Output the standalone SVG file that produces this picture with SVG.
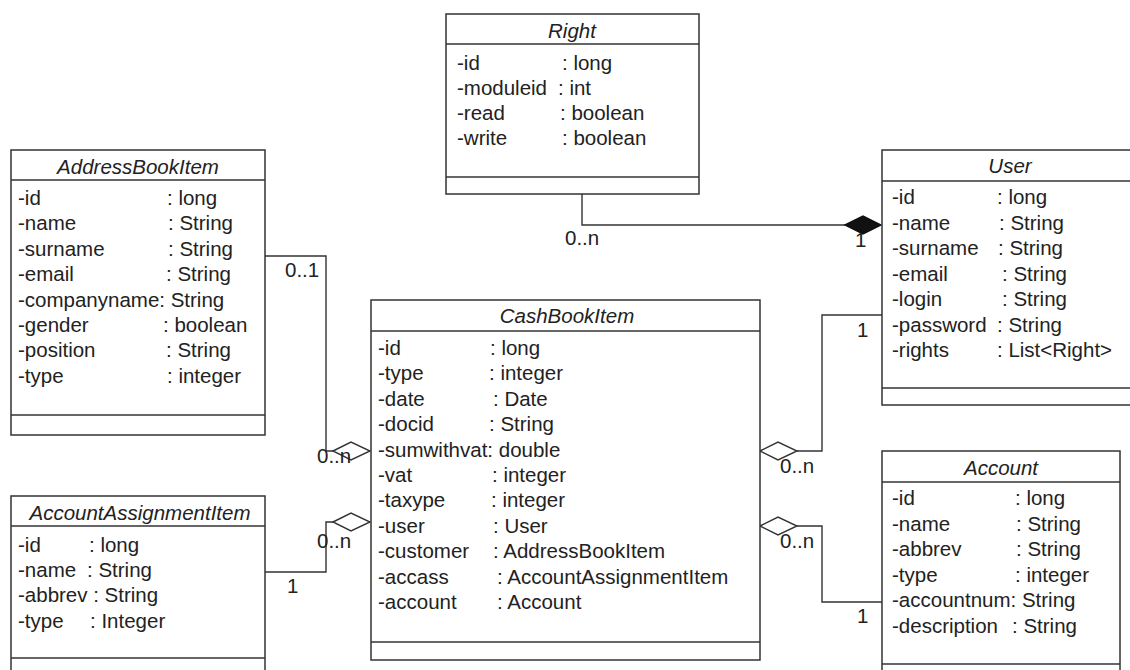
<svg xmlns="http://www.w3.org/2000/svg" width="1130" height="670" viewBox="0 0 1130 670">
<style>
.box{fill:#fff;stroke:#333;stroke-width:1.5}
.sep{stroke:#333;stroke-width:1.5}
.t{font-family:"Liberation Sans",Arial,sans-serif;font-size:20.5px;fill:#222}
.title{font-style:italic;text-anchor:middle}
.line{fill:none;stroke:#333;stroke-width:1.4}
.hd{fill:#fff;stroke:#333;stroke-width:1.4}
.fd{fill:#111;stroke:#111;stroke-width:1.4}
</style>
<rect width="1130" height="670" fill="#fff"/>
<g id="connectors">
  <polyline class="line" points="582,194 582,225 845,225"/>
  <polygon class="fd" points="845,225 863,216 881,225 863,234"/>
  <polyline class="line" points="265,256 326,256 326,451 333,451"/>
  <polygon class="hd" points="333,451 351,442 370,451 351,460"/>
  <polyline class="line" points="265,572 326,572 326,522 333,522"/>
  <polygon class="hd" points="333,522 351,513 370,522 351,531"/>
  <polyline class="line" points="882,315 822,315 822,451 797,451"/>
  <polygon class="hd" points="760,451 778,442 797,451 778,460"/>
  <polyline class="line" points="882,602 822,602 822,526 797,526"/>
  <polygon class="hd" points="760,526 778,517 797,526 778,535"/>
  <text class="t" x="565" y="245">0..n</text>
  <text class="t" x="855" y="247">1</text>
  <text class="t" x="285" y="277">0..1</text>
  <text class="t" x="317" y="463">0..n</text>
  <text class="t" x="317" y="548">0..n</text>
  <text class="t" x="287" y="593">1</text>
  <text class="t" x="857" y="337">1</text>
  <text class="t" x="780" y="473">0..n</text>
  <text class="t" x="780" y="548">0..n</text>
  <text class="t" x="857" y="623">1</text>
</g>
<g id="Right">
  <rect class="box" x="446" y="14" width="253" height="180"/>
  <line class="sep" x1="446" y1="44" x2="699" y2="44"/>
  <line class="sep" x1="446" y1="177" x2="699" y2="177"/>
  <text class="t title" x="572" y="38">Right</text>
  <text class="t" x="457" y="70">-id</text><text class="t" x="562" y="70">: long</text>
  <text class="t" x="457" y="95">-moduleid</text><text class="t" x="558" y="95">: int</text>
  <text class="t" x="457" y="120">-read</text><text class="t" x="560" y="120">: boolean</text>
  <text class="t" x="457" y="145">-write</text><text class="t" x="562" y="145">: boolean</text>
</g>
<g id="AddressBookItem">
  <rect class="box" x="11" y="150" width="254" height="285"/>
  <line class="sep" x1="11" y1="180" x2="265" y2="180"/>
  <line class="sep" x1="11" y1="415" x2="265" y2="415"/>
  <text class="t title" x="138" y="174">AddressBookItem</text>
  <text class="t" x="18" y="205">-id</text><text class="t" x="167" y="205">: long</text>
  <text class="t" x="18" y="230">-name</text><text class="t" x="168" y="230">: String</text>
  <text class="t" x="18" y="256">-surname</text><text class="t" x="168" y="256">: String</text>
  <text class="t" x="18" y="281">-email</text><text class="t" x="166" y="281">: String</text>
  <text class="t" x="18" y="307">-companyname: String</text>
  <text class="t" x="18" y="332">-gender</text><text class="t" x="163" y="332">: boolean</text>
  <text class="t" x="18" y="357">-position</text><text class="t" x="166" y="357">: String</text>
  <text class="t" x="18" y="383">-type</text><text class="t" x="167" y="383">: integer</text>
</g>
<g id="User">
  <rect class="box" x="882" y="150" width="260" height="255"/>
  <line class="sep" x1="882" y1="181" x2="1142" y2="181"/>
  <line class="sep" x1="882" y1="388" x2="1142" y2="388"/>
  <text class="t title" x="1010" y="173">User</text>
  <text class="t" x="892" y="204">-id</text><text class="t" x="997" y="204">: long</text>
  <text class="t" x="892" y="230">-name</text><text class="t" x="999" y="230">: String</text>
  <text class="t" x="892" y="255">-surname</text><text class="t" x="998" y="255">: String</text>
  <text class="t" x="892" y="281">-email</text><text class="t" x="1002" y="281">: String</text>
  <text class="t" x="892" y="306">-login</text><text class="t" x="1002" y="306">: String</text>
  <text class="t" x="892" y="332">-password</text><text class="t" x="997" y="332">: String</text>
  <text class="t" x="892" y="357">-rights</text><text class="t" x="997" y="357">: List&lt;Right&gt;</text>
</g>
<g id="CashBookItem">
  <rect class="box" x="371" y="300" width="389" height="360"/>
  <line class="sep" x1="371" y1="331" x2="760" y2="331"/>
  <line class="sep" x1="371" y1="642" x2="760" y2="642"/>
  <text class="t title" x="567" y="323">CashBookItem</text>
  <text class="t" x="378" y="355">-id</text><text class="t" x="490" y="355">: long</text>
  <text class="t" x="378" y="380">-type</text><text class="t" x="489" y="380">: integer</text>
  <text class="t" x="378" y="406">-date</text><text class="t" x="493" y="406">: Date</text>
  <text class="t" x="378" y="431">-docid</text><text class="t" x="489" y="431">: String</text>
  <text class="t" x="378" y="457">-sumwithvat: double</text>
  <text class="t" x="378" y="482">-vat</text><text class="t" x="492" y="482">: integer</text>
  <text class="t" x="378" y="507">-taxype</text><text class="t" x="491" y="507">: integer</text>
  <text class="t" x="378" y="533">-user</text><text class="t" x="493" y="533">: User</text>
  <text class="t" x="378" y="558">-customer</text><text class="t" x="493" y="558">: AddressBookItem</text>
  <text class="t" x="378" y="584">-accass</text><text class="t" x="497" y="584">: AccountAssignmentItem</text>
  <text class="t" x="378" y="609">-account</text><text class="t" x="497" y="609">: Account</text>
</g>
<g id="AccountAssignmentItem">
  <rect class="box" x="11" y="496" width="254" height="190"/>
  <line class="sep" x1="11" y1="526" x2="265" y2="526"/>
  <line class="sep" x1="11" y1="658" x2="265" y2="658"/>
  <text class="t title" x="140" y="520">AccountAssignmentItem</text>
  <text class="t" x="18" y="552">-id</text><text class="t" x="89" y="552">: long</text>
  <text class="t" x="18" y="577">-name</text><text class="t" x="87" y="577">: String</text>
  <text class="t" x="18" y="602">-abbrev : String</text>
  <text class="t" x="18" y="628">-type</text><text class="t" x="90" y="628">: Integer</text>
</g>
<g id="Account">
  <rect class="box" x="882" y="451" width="238" height="235"/>
  <line class="sep" x1="882" y1="482" x2="1120" y2="482"/>
  <line class="sep" x1="882" y1="664" x2="1120" y2="664"/>
  <text class="t title" x="1001" y="475">Account</text>
  <text class="t" x="892" y="505">-id</text><text class="t" x="1015" y="505">: long</text>
  <text class="t" x="892" y="531">-name</text><text class="t" x="1016" y="531">: String</text>
  <text class="t" x="892" y="556">-abbrev</text><text class="t" x="1016" y="556">: String</text>
  <text class="t" x="892" y="582">-type</text><text class="t" x="1015" y="582">: integer</text>
  <text class="t" x="892" y="607">-accountnum: String</text>
  <text class="t" x="892" y="633">-description</text><text class="t" x="1012" y="633">: String</text>
</g>
</svg>
